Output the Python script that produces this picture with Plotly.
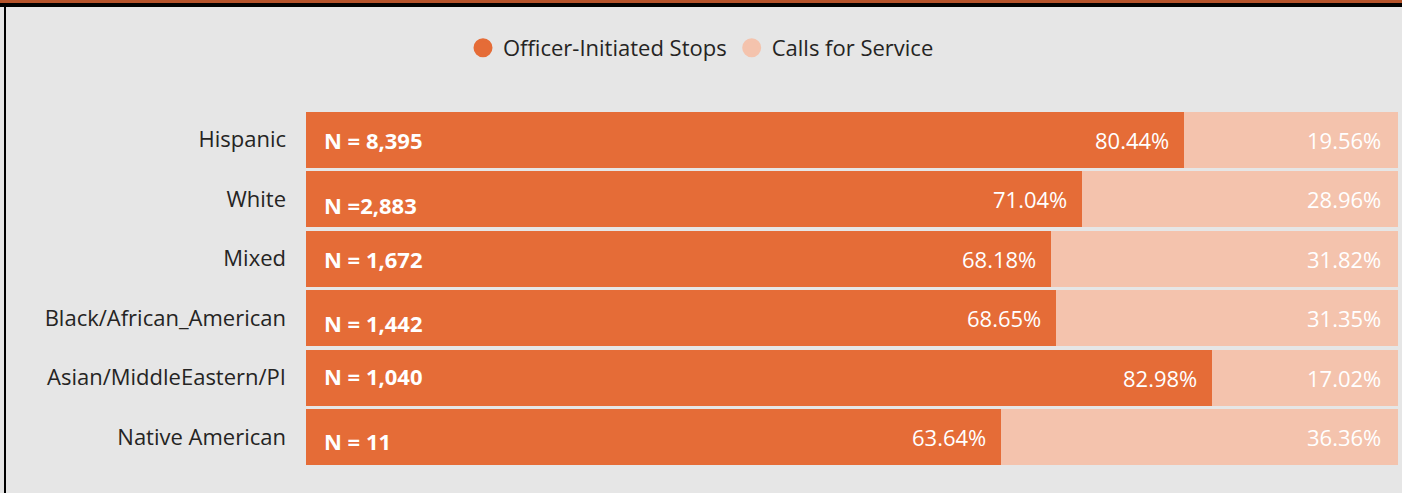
import plotly.graph_objects as go

categories = ["Hispanic", "White", "Mixed", "Black/African_American",
              "Asian/MiddleEastern/PI", "Native American"]
officer_pct = [80.44, 71.04, 68.18, 68.65, 82.98, 63.64]
calls_pct = [19.56, 28.96, 31.82, 31.35, 17.02, 36.36]
n_labels = ["N = 8,395", "N =2,883", "N = 1,672", "N = 1,442", "N = 1,040", "N = 11"]
n_yshift = [0, -6, 0, -5, 2, -4]

DARK = "#e56c37"
LIGHT = "#f4c3ad"
BG = "#e6e6e6"
FONT = "Open Sans"

fig = go.Figure()
fig.add_trace(go.Bar(y=categories, x=officer_pct, orientation="h", marker_color=DARK,
                     marker_line_width=0, showlegend=False, hoverinfo="x+y"))
fig.add_trace(go.Bar(y=categories, x=calls_pct, orientation="h", marker_color=LIGHT,
                     marker_line_width=0, showlegend=False, hoverinfo="x+y"))
# legend entries with circle markers
fig.add_trace(go.Scatter(x=[None], y=[None], mode="markers", name="Officer-Initiated Stops",
                         marker=dict(color=DARK, size=20, symbol="circle",
                                     line=dict(color=DARK, width=3))))
fig.add_trace(go.Scatter(x=[None], y=[None], mode="markers", name="Calls for Service",
                         marker=dict(color=LIGHT, size=20, symbol="circle",
                                     line=dict(color=LIGHT, width=3))))

annotations = []
for cat, o, c, n, ys in zip(categories, officer_pct, calls_pct, n_labels, n_yshift):
    annotations.append(dict(x=o, y=cat, xref="x", yref="y", text=f"{o:.2f}%",
                            showarrow=False, xanchor="right", xshift=-13,
                            font=dict(family=FONT, size=22, color="white")))
    annotations.append(dict(x=o + c, y=cat, xref="x", yref="y", text=f"{c:.2f}%",
                            showarrow=False, xanchor="right", xshift=-15,
                            font=dict(family=FONT, size=22, color="white")))
    annotations.append(dict(x=0, y=cat, xref="x", yref="y", text=f"<b>{n}</b>",
                            showarrow=False, xanchor="left", xshift=16, yshift=ys,
                            font=dict(family=FONT, size=22, color="white")))

W, H = 1402, 493
L, R, T, B = 306, 4, 110, 26
pw, ph = W - L - R, H - T - B


def px_x(p):
    return (p - L) / pw


def px_y(p):
    return (H - B - p) / ph


shapes = [
    dict(type="rect", xref="paper", yref="paper", x0=px_x(0), x1=px_x(W), y0=px_y(3), y1=px_y(0),
         fillcolor="#b5532a", line_width=0, layer="above"),
    dict(type="rect", xref="paper", yref="paper", x0=px_x(0), x1=px_x(W), y0=px_y(7), y1=px_y(3),
         fillcolor="black", line_width=0, layer="above"),
    dict(type="rect", xref="paper", yref="paper", x0=px_x(4), x1=px_x(6), y0=px_y(H), y1=px_y(3),
         fillcolor="black", line_width=0, layer="above"),
]

fig.update_layout(
    width=W, height=H,
    barmode="stack", bargap=0.06,
    paper_bgcolor=BG, plot_bgcolor=BG,
    margin=dict(l=L, r=R, t=T, b=B, pad=0),
    font=dict(family=FONT, size=22, color="#252423"),
    xaxis=dict(range=[0, 100], visible=False, fixedrange=True),
    yaxis=dict(categoryorder="array", categoryarray=categories, autorange="reversed",
               showgrid=False, zeroline=False, showline=False, ticks="",
               ticklabelstandoff=19, tickfont=dict(family=FONT, size=22, color="#252423")),
    legend=dict(orientation="h", xref="container", yref="container", x=0.5, xanchor="center",
                y=1 - 27 / H, yanchor="top", font=dict(family=FONT, size=22, color="#252423"),
                bgcolor="rgba(0,0,0,0)", itemsizing="trace", traceorder="normal"),
    annotations=annotations,
    shapes=shapes,
)

fig.write_html("out.html", config={"displayModeBar": False},
               post_script="document.body.style.margin='0';")
